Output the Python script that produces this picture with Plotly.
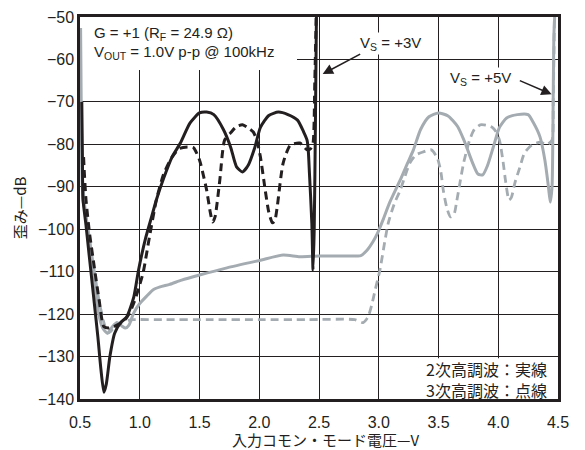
import plotly.graph_objects as go

# Vs = +3V, 2nd harmonic (solid black)
bs_x = [0.515, 0.52, 0.525, 0.55, 0.58, 0.62, 0.65, 0.675, 0.70, 0.72, 0.75, 0.79, 0.84, 0.89, 0.95,
        0.99, 1.05, 1.1, 1.14, 1.2, 1.27, 1.34, 1.42, 1.5, 1.56, 1.62, 1.7, 1.76, 1.81, 1.86, 1.91,
        1.96, 2.01, 2.08, 2.16, 2.24, 2.32, 2.37, 2.40, 2.41, 2.42, 2.44, 2.45, 2.46, 2.47, 2.48]
bs_y = [-70, -82, -93, -99, -107, -117.5, -125.5, -133, -138.4, -136.5, -130, -124.5, -122, -120.7, -116,
        -109.6, -102, -97, -93, -88, -83, -79.7, -75, -72.6, -72.4, -73, -76.5, -80.6, -85.3, -86.5, -84.8,
        -81, -76, -73.2, -72.4, -73, -74.3, -77, -79, -81.3, -86.8, -98.5, -109.6, -100, -75, -45]

# Vs = +3V, 3rd harmonic (dashed black)
bd_x = [0.53, 0.535, 0.55, 0.58, 0.62, 0.66, 0.70, 0.74, 0.78, 0.83, 0.87, 0.91, 0.95, 0.99, 1.03,
        1.08, 1.14, 1.2, 1.27, 1.33, 1.4, 1.45, 1.5, 1.53, 1.56, 1.59, 1.61, 1.63, 1.67, 1.71, 1.76,
        1.81, 1.86, 1.91, 1.95, 1.98, 2.01, 2.05, 2.08, 2.11, 2.13, 2.15, 2.2, 2.26, 2.34, 2.4, 2.43,
        2.45, 2.465, 2.48]
bd_y = [-83, -86, -93, -101, -109, -116.7, -123, -123.3, -123, -122.3, -121.5, -120, -117.4, -114, -110,
        -102, -93, -87, -83, -81, -80.6, -80.8, -83.7, -87, -90.8, -96, -98.3, -97.1, -88.4, -79, -77.3,
        -75.8, -75.4, -76.2, -77.1, -79, -83, -90.8, -96, -98.5, -98, -94.8, -84.4, -80.2, -79.7, -81.3, -81,
        -79.7, -65, -45]

# Vs = +5V, 2nd harmonic (solid gray)
gs_x = [0.505, 0.51, 0.515, 0.525, 0.55, 0.58, 0.61, 0.65, 0.69, 0.73, 0.77, 0.81, 0.85, 0.88, 0.91,
        0.95, 1.0, 1.05, 1.11, 1.17, 1.25, 1.35, 1.5, 1.73, 2.01, 2.2, 2.34, 2.5, 2.7, 2.85, 2.9, 2.95,
        2.99, 3.04, 3.09, 3.18, 3.24, 3.29, 3.35, 3.42, 3.5, 3.58, 3.66, 3.72, 3.78, 3.83, 3.87, 3.91,
        3.96, 4.01, 4.07, 4.16, 4.25, 4.29, 4.35, 4.39, 4.42, 4.435, 4.45, 4.458, 4.465, 4.472]
gs_y = [-52.6, -70, -85, -93, -97, -102.5, -109, -119, -123.3, -124.5, -123, -122, -122.8, -123.3, -122.6,
        -119.7, -117.5, -116, -114.3, -113.6, -113, -112, -110.8, -109.1, -107.3, -106.1, -106.5, -106.3,
        -106.3, -106.2, -105, -103, -100.9, -97.5, -93.8, -88.4, -84.5, -81.3, -76.5, -73.5, -72.6, -73.3,
        -75.8, -79.5, -84, -87, -87.2, -85, -80.5, -76, -73.8, -73, -73, -74.7, -78.3, -83.7, -90, -93.6,
        -90, -75, -55, -50]

# Vs = +5V, 3rd harmonic (dashed gray)
gd_x = [0.52, 0.535, 0.55, 0.58, 0.62, 0.66, 0.7, 0.73, 0.76, 0.8, 0.84, 0.9, 0.95, 1.2, 1.6, 2.0, 2.4,
        2.8, 2.87, 2.91, 2.94, 2.97, 2.99, 3.01, 3.05, 3.08, 3.13, 3.18, 3.22, 3.26, 3.31, 3.37, 3.44,
        3.49, 3.52, 3.54, 3.57, 3.6, 3.63, 3.65, 3.68, 3.71, 3.76, 3.8, 3.85, 3.9, 3.95, 3.98, 4.01, 4.04,
        4.06, 4.09, 4.11, 4.14, 4.18, 4.22, 4.28, 4.35, 4.41, 4.45, 4.46, 4.47]
gd_y = [-88, -93, -97, -103, -110, -117, -122, -124.5, -124, -122.6, -122, -121.5, -121.3, -121.3, -121.3,
        -121.3, -121.3, -121.3, -122, -120.7, -118, -114.3, -112, -109.6, -103, -98.5, -94, -90.8, -87.5,
        -84.4, -82.5, -81.8, -81.3, -83.2, -86.5, -90.8, -95, -97.1, -96.5, -93.8, -89, -84.4, -79, -76.5,
        -75.4, -75.5, -76, -77, -79, -84, -88.4, -93.1, -92.5, -89, -85.5, -82, -80.2, -79.5, -80, -79,
        -70, -50]

x_ticks = [0.5, 1.0, 1.5, 2.0, 2.5, 3.0, 3.5, 4.0, 4.5]
y_ticks = [-140, -130, -120, -110, -100, -90, -80, -70, -60, -50]

BLACK = "#231f20"
GRAY = "#a4acb2"
FONT = "Liberation Sans, Arial, Noto Sans CJK JP"
JFONT = "Noto Sans CJK JP"

fig = go.Figure()
fig.add_trace(go.Scatter(x=gd_x, y=gd_y, mode="lines",
                         line=dict(color=GRAY, width=2.8, dash="8px,5px", shape="spline", smoothing=0.6)))
fig.add_trace(go.Scatter(x=gs_x, y=gs_y, mode="lines",
                         line=dict(color=GRAY, width=3, shape="spline", smoothing=0.6)))
fig.add_trace(go.Scatter(x=bd_x, y=bd_y, mode="lines",
                         line=dict(color=BLACK, width=3, dash="8px,5px", shape="spline", smoothing=0.6)))
fig.add_trace(go.Scatter(x=bs_x, y=bs_y, mode="lines",
                         line=dict(color=BLACK, width=3, shape="spline", smoothing=0.6)))

# white boxes covering the grid behind texts
fig.add_shape(type="rect", xref="x", yref="y", x0=0.5, x1=2.316, y0=-62.5, y1=-50,
              fillcolor="white", line=dict(width=0), layer="between")
fig.add_shape(type="rect", xref="x", yref="y", x0=3.02, x1=4.5, y0=-130.4, y1=-140,
              fillcolor="white", line=dict(width=0), layer="between")

fig.add_annotation(x=0.6, y=-53.8, xref="x", yref="y", xanchor="left", yanchor="middle",
                   text="G = +1 (R<sub>F</sub> = 24.9 Ω)", showarrow=False,
                   font=dict(size=15, color=BLACK, family=FONT))
fig.add_annotation(x=0.6, y=-58.3, xref="x", yref="y", xanchor="left", yanchor="middle",
                   text="V<sub>OUT</sub> = 1.0V p-p @ 100kHz", showarrow=False,
                   font=dict(size=15, color=BLACK, family=FONT))
fig.add_annotation(x=3.1, y=-56.3, xref="x", yref="y", xanchor="center", yanchor="middle",
                   text="V<sub>S</sub> = +3V", showarrow=False, bgcolor="white",
                   font=dict(size=15, color=BLACK, family=FONT))
fig.add_annotation(x=3.85, y=-64.5, xref="x", yref="y", xanchor="center", yanchor="middle",
                   text="V<sub>S</sub> = +5V", showarrow=False, bgcolor="white",
                   font=dict(size=15, color=BLACK, family=FONT))
fig.add_annotation(x=2.531, y=-63.43, ax=2.857, ay=-58.55, xref="x", yref="y", axref="x", ayref="y",
                   text="", showarrow=True, arrowhead=2, arrowsize=1.3, arrowwidth=1.6, arrowcolor=BLACK)
fig.add_annotation(x=4.447, y=-68.2, ax=4.168, ay=-64.84, xref="x", yref="y", axref="x", ayref="y",
                   text="", showarrow=True, arrowhead=2, arrowsize=1.3, arrowwidth=1.6, arrowcolor=BLACK)
fig.add_annotation(x=4.42, y=-135.3, xref="x", yref="y", xanchor="right", yanchor="middle",
                   text="2次高調波：実線<br>3次高調波：点線", showarrow=False, borderpad=0, align="left",
                   font=dict(size=16, color=BLACK, family=JFONT))
# x-axis title as a paper annotation (fixed position)
fig.add_annotation(x=0.5126, y=-0.105, xref="paper", yref="paper", xanchor="center", yanchor="middle",
                   text="入力コモン・モード電圧—V", showarrow=False, borderpad=0,
                   font=dict(size=15, color=BLACK, family=JFONT))

fig.update_layout(
    width=585, height=450,
    margin=dict(l=80, r=27, t=17, b=51),
    plot_bgcolor="white", paper_bgcolor="white",
    showlegend=False,
    font=dict(family=FONT, size=15, color=BLACK),
)
fig.update_xaxes(range=[0.5, 4.5], tickvals=x_ticks, ticktext=[f"{v:.1f}" for v in x_ticks],
                 automargin=False,
                 showgrid=True, gridcolor=BLACK, gridwidth=1.3,
                 showline=True, linecolor=BLACK, linewidth=2.5, mirror=True,
                 ticks="outside", ticklen=7, tickcolor="white",
                 tickfont=dict(size=16, family=FONT))
fig.update_yaxes(range=[-140, -50], tickvals=y_ticks, ticktext=[f"\u2212{abs(v)}" for v in y_ticks],
                 automargin=False,
                 showgrid=True, gridcolor=BLACK, gridwidth=1.3,
                 showline=True, linecolor=BLACK, linewidth=2.5, mirror=True,
                 ticks="",
                 tickfont=dict(size=16, family=FONT),
                 title=dict(text="歪み—dB", font=dict(size=15, family=JFONT), standoff=8))

fig.write_html("out.html")
